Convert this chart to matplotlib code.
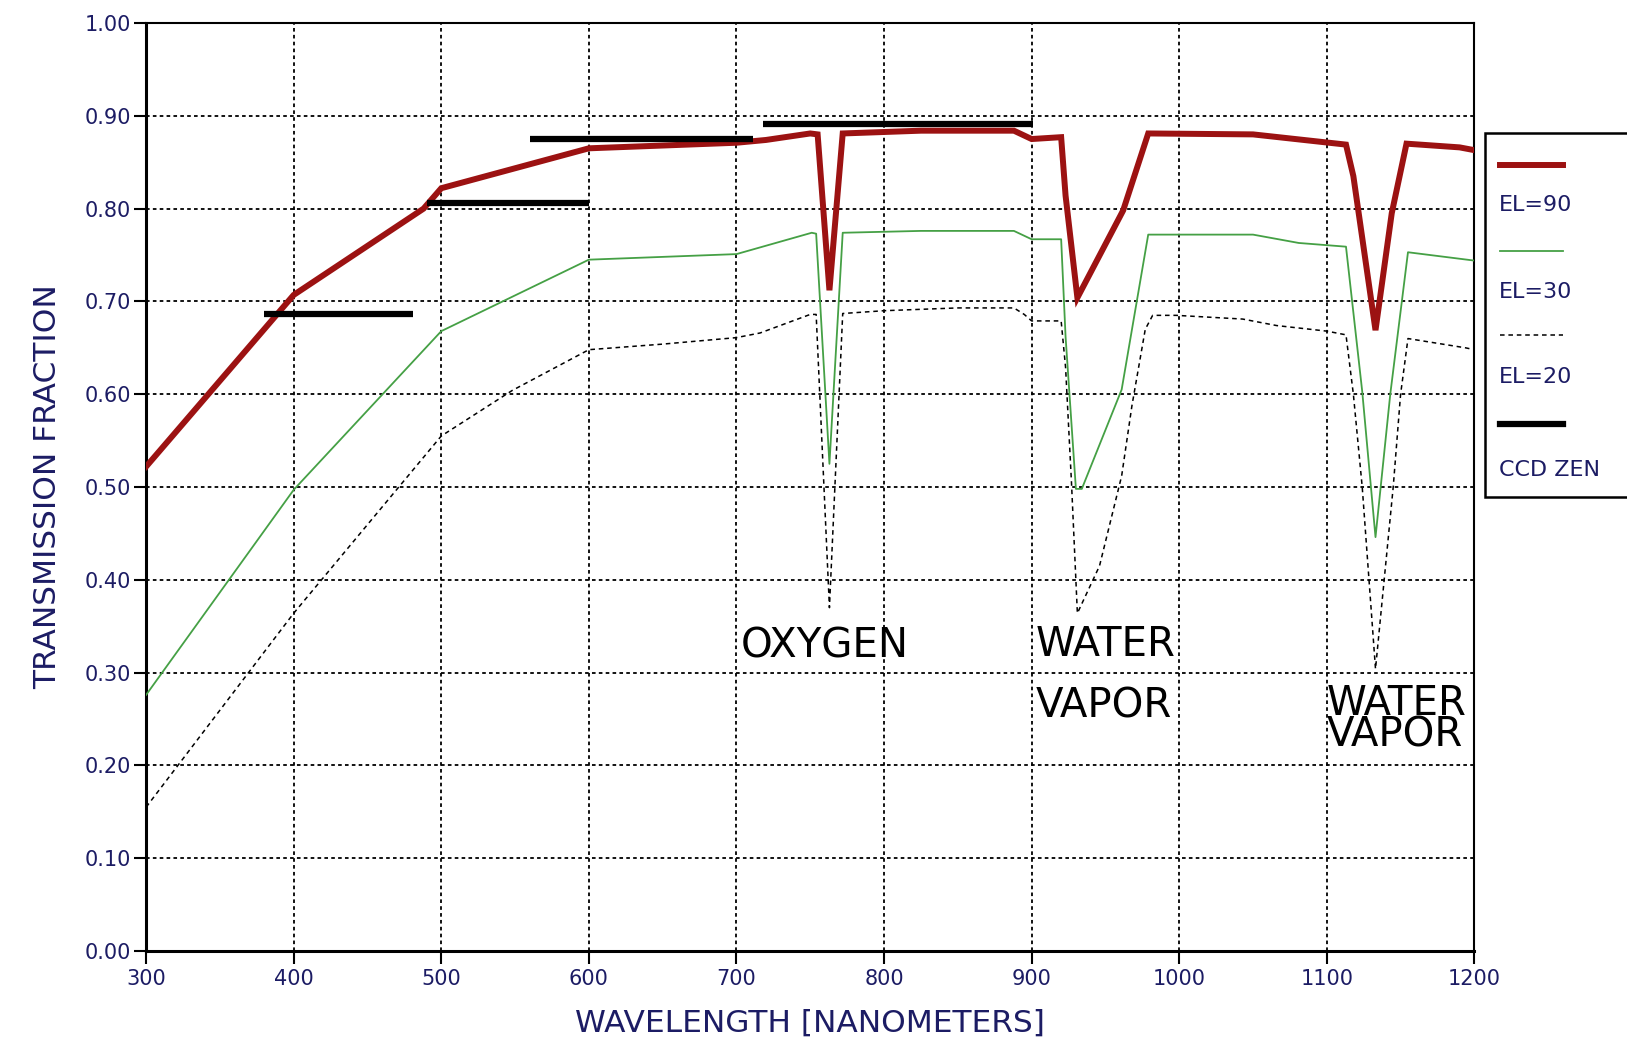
import matplotlib
matplotlib.use("Agg")
import matplotlib.pyplot as plt
from matplotlib.lines import Line2D
from matplotlib.patches import Rectangle

# Atmospheric transmission, zenith (EL=90)
wl_el90 = [300, 400, 488, 500, 600, 700, 720, 750, 755, 763, 772, 825, 888,
           900, 920, 923, 931, 962, 979, 1050, 1113, 1118, 1133, 1144, 1154, 1190, 1200]
tr_el90 = [0.522, 0.707, 0.800, 0.822, 0.865, 0.871, 0.874, 0.881, 0.880, 0.712, 0.881, 0.884, 0.884,
           0.875, 0.877, 0.814, 0.704, 0.798, 0.881, 0.880, 0.869, 0.835, 0.669, 0.795, 0.870, 0.866, 0.863]

# Elevation 30 deg
wl_el30 = [300, 400, 500, 600, 700, 751, 754, 763, 772, 825, 888, 900, 920, 923,
           930, 934, 961, 979, 1050, 1081, 1113, 1124, 1133, 1143, 1155, 1200]
tr_el30 = [0.276, 0.497, 0.668, 0.745, 0.751, 0.774, 0.773, 0.525, 0.774, 0.776, 0.776, 0.767, 0.767, 0.662,
           0.498, 0.498, 0.605, 0.772, 0.772, 0.763, 0.759, 0.603, 0.446, 0.600, 0.753, 0.744]

# Elevation 20 deg
wl_el20 = [300, 400, 500, 548, 600, 650, 700, 716, 750, 754, 763, 772, 800, 850, 888, 895,
           900, 920, 923, 927, 931, 946, 961, 968, 977, 982, 998, 1043, 1066, 1100, 1113,
           1118, 1124, 1133, 1145, 1150, 1155, 1194, 1200]
tr_el20 = [0.155, 0.364, 0.555, 0.604, 0.648, 0.654, 0.661, 0.666, 0.686, 0.686, 0.370, 0.687, 0.690, 0.693, 0.693, 0.686,
           0.679, 0.679, 0.629, 0.505, 0.364, 0.415, 0.512, 0.588, 0.670, 0.685, 0.685, 0.681, 0.674, 0.668, 0.664,
           0.600, 0.500, 0.304, 0.500, 0.600, 0.660, 0.650, 0.648]

# CCD zenith band-averaged transmission
ccd_start = [380, 490, 560, 718]
ccd_end = [481, 600, 711, 901]
ccd_level = [0.686, 0.806, 0.875, 0.891]

x_ticks = list(range(300, 1201, 100))
y_ticks = [0.0, 0.1, 0.2, 0.3, 0.4, 0.5, 0.6, 0.7, 0.8, 0.9, 1.0]

# Absorption band annotations
band_labels = ["OXYGEN", "WATER", "VAPOR", "WATER\nVAPOR"]
band_x = [703, 903, 903, 1100]
band_y = [0.328, 0.330, 0.263, 0.249]
band_spacing = [1.2, 1.2, 1.2, 0.72]

legend_labels = ["EL=90", "EL=30", "EL=20", "CCD ZEN"]

RED = "#9c1212"
GREEN = "#45a045"
NAVY = "#1c1c64"

fig = plt.figure(figsize=(16.27, 10.42), dpi=100)
ax = fig.add_axes([0.0898, 0.0873, 0.8164, 0.8906])

ax.plot(wl_el20, tr_el20, color="black", lw=1.1, linestyle=(0, (3, 2.5)), zorder=3)
ax.plot(wl_el30, tr_el30, color=GREEN, lw=1.3, zorder=4)
ax.plot(wl_el90, tr_el90, color=RED, lw=4.3, solid_joinstyle="miter", zorder=5)
ax.hlines(ccd_level, ccd_start, ccd_end, colors="black", lw=4.5, zorder=6)

for txt, xx, yy, ls in zip(band_labels, band_x, band_y, band_spacing):
    ax.text(xx, yy, txt, fontsize=29, color="black", ha="left", va="center",
            linespacing=ls, zorder=7)

ax.set_xlim(300, 1200)
ax.set_ylim(0, 1.0)
ax.set_xticks(x_ticks)
ax.set_xticklabels([str(v) for v in x_ticks], fontsize=15, color=NAVY)
ax.set_yticks(y_ticks)
ax.set_yticklabels(["%.2f" % v for v in y_ticks], fontsize=15, color=NAVY)
ax.tick_params(axis="both", direction="out", length=9, width=1.5, color="black")
ax.tick_params(axis="y", pad=2)
ax.tick_params(axis="x", pad=4)

ax.grid(True, color="black", lw=1.3, linestyle=(0, (2, 1.8)))
ax.set_axisbelow(True)

for side in ["top", "right"]:
    ax.spines[side].set_linewidth(1.5)
for side in ["left", "bottom"]:
    ax.spines[side].set_linewidth(2.2)

ax.set_xlabel("WAVELENGTH [NANOMETERS]", fontsize=22.5, color=NAVY, labelpad=14)
ax.set_ylabel("TRANSMISSION FRACTION", fontsize=22.5, color=NAVY, labelpad=16)

# Legend panel: sample line above each label
fig.add_artist(Rectangle((0.9128, 0.523), 0.2, 0.349, transform=fig.transFigure,
                         facecolor="white", edgecolor="black", lw=1.8, clip_on=False))
samples = [
    dict(color=RED, lw=4.3, linestyle="-"),
    dict(color=GREEN, lw=1.3, linestyle="-"),
    dict(color="black", lw=1.1, linestyle=(0, (3, 2.5))),
    dict(color="black", lw=4.5, linestyle="-"),
]
line_y = [0.8416, 0.7594, 0.6785, 0.5931]
text_y = [0.8033, 0.7201, 0.6382, 0.5489]
for style, ly, ty, lab in zip(samples, line_y, text_y, legend_labels):
    fig.add_artist(Line2D([0.9220, 0.9605], [ly, ly], transform=fig.transFigure, **style))
    fig.text(0.9215, ty, lab, fontsize=16, color=NAVY, ha="left", va="center")

fig.savefig("out.png", dpi=100, facecolor="white")
